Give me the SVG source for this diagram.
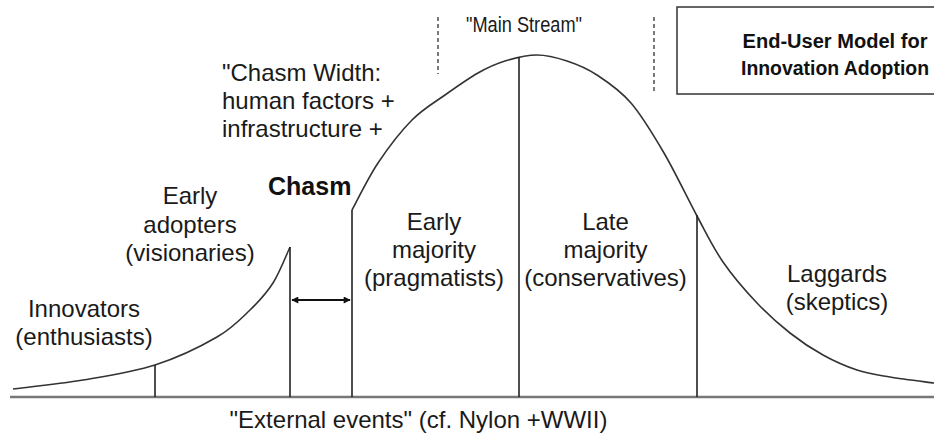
<svg xmlns="http://www.w3.org/2000/svg" width="934" height="435" viewBox="0 0 934 435">
<defs>
<marker id="ah" viewBox="0 0 10 10" refX="9" refY="5" markerWidth="9" markerHeight="7" markerUnits="userSpaceOnUse" orient="auto-start-reverse">
<path d="M0,0 L10,5 L0,10 z" fill="#111"/>
</marker>
<style>
.t{font-family:"Liberation Sans",Arial,sans-serif;font-size:24px;fill:#1a1a1a;text-anchor:middle}
.tl{font-family:"Liberation Sans",Arial,sans-serif;font-size:24px;fill:#1a1a1a}
.ms{font-family:"Liberation Sans",Arial,sans-serif;font-size:22px;fill:#1a1a1a}
.b{font-family:"Liberation Sans",Arial,sans-serif;font-weight:bold;fill:#111}
.chasm{font-size:25px}
.title{font-size:19.5px;text-anchor:middle}
.curve{fill:none;stroke:#333;stroke-width:1.6}
.div{stroke:#222;stroke-width:1.6}
.dash{stroke:#222;stroke-width:1.2;stroke-dasharray:4 3}
</style>
</defs>
<rect width="934" height="435" fill="#fff"/>
<g id="axis">
<line x1="10" y1="397" x2="934" y2="397" stroke="#777" stroke-width="2.5"/>
</g>
<g id="curves">
<path class="curve" d="M13,389 C24.7,387.5 59.3,384 83,380 C106.7,376 132.7,372.2 155,365 C177.3,357.8 201.2,346.2 217,337 C232.8,327.8 240.7,319 250,310 C259.3,301 266.3,293.5 273,283 C279.7,272.5 287.2,253 290,247"/>
<path class="curve" d="M352,210 C356.3,202.2 368,178 378,163 C388,148 400.8,131.3 412,120 C423.2,108.7 434,102.8 445,95 C456,87.2 468,78.7 478,73 C488,67.3 495.2,64 505,61 C514.8,58 526.7,55 537,55 C547.3,55 557,57.7 567,61 C577,64.3 586.3,68 597,75 C607.7,82 619.8,90 631,103 C642.2,116 653,134.2 664,153 C675,171.8 687.2,197.8 697,216 C706.8,234.2 713,247.5 723,262 C733,276.5 745.8,291.2 757,303 C768.2,314.8 779,324.3 790,333 C801,341.7 811.8,348.8 823,355 C834.2,361.2 845.8,366.3 857,370 C868.2,373.7 877.2,374.8 890,377 C902.8,379.2 926.7,382 934,383"/>
</g>
<g id="connectors">
<line class="div" x1="155" y1="365" x2="155" y2="397"/>
<line class="div" x1="290" y1="247" x2="290" y2="397"/>
<line class="div" x1="352" y1="210" x2="352" y2="397"/>
<line class="div" x1="519" y1="57" x2="519" y2="397"/>
<line class="div" x1="697" y1="215" x2="697" y2="397"/>
<line x1="292" y1="300" x2="350" y2="300" stroke="#111" stroke-width="2" marker-start="url(#ah)" marker-end="url(#ah)"/>
<line class="dash" x1="438" y1="17" x2="438" y2="74"/>
<line class="dash" x1="654" y1="17" x2="654" y2="91"/>
</g>
<g id="innovators">
<text class="t" x="84" y="317">Innovators</text>
<text class="t" x="84" y="345">(enthusiasts)</text>
</g>
<g id="early-adopters">
<text class="t" x="190" y="204">Early</text>
<text class="t" x="190" y="233">adopters</text>
<text class="t" x="190" y="261">(visionaries)</text>
</g>
<g id="chasm">
<text class="b chasm" x="268" y="195">Chasm</text>
</g>
<g id="chasm-width">
<text class="tl" x="222" y="81">"Chasm Width:</text>
<text class="tl" x="222" y="109">human factors +</text>
<text class="tl" x="222" y="137">infrastructure +</text>
</g>
<g id="early-majority">
<text class="t" x="434" y="230">Early</text>
<text class="t" x="434" y="258">majority</text>
<text class="t" x="434" y="286">(pragmatists)</text>
</g>
<g id="late-majority">
<text class="t" x="605.5" y="230">Late</text>
<text class="t" x="605.5" y="258">majority</text>
<text class="t" x="605.5" y="286">(conservatives)</text>
</g>
<g id="laggards">
<text class="t" x="837" y="282">Laggards</text>
<text class="t" x="837" y="310">(skeptics)</text>
</g>
<g id="main-stream">
<text class="ms" x="466" y="32" textLength="116" lengthAdjust="spacingAndGlyphs">"Main Stream"</text>
</g>
<g id="title">
<rect x="677" y="7" width="270" height="87" fill="#fff" stroke="#333" stroke-width="1.5"/>
<text class="b title" x="835" y="48" textLength="185" lengthAdjust="spacingAndGlyphs">End-User Model for</text>
<text class="b title" x="835" y="75" textLength="188" lengthAdjust="spacingAndGlyphs">Innovation Adoption</text>
</g>
<g id="external">
<text class="t" x="418.5" y="428">"External events" (cf. Nylon +WWII)</text>
</g>
</svg>
